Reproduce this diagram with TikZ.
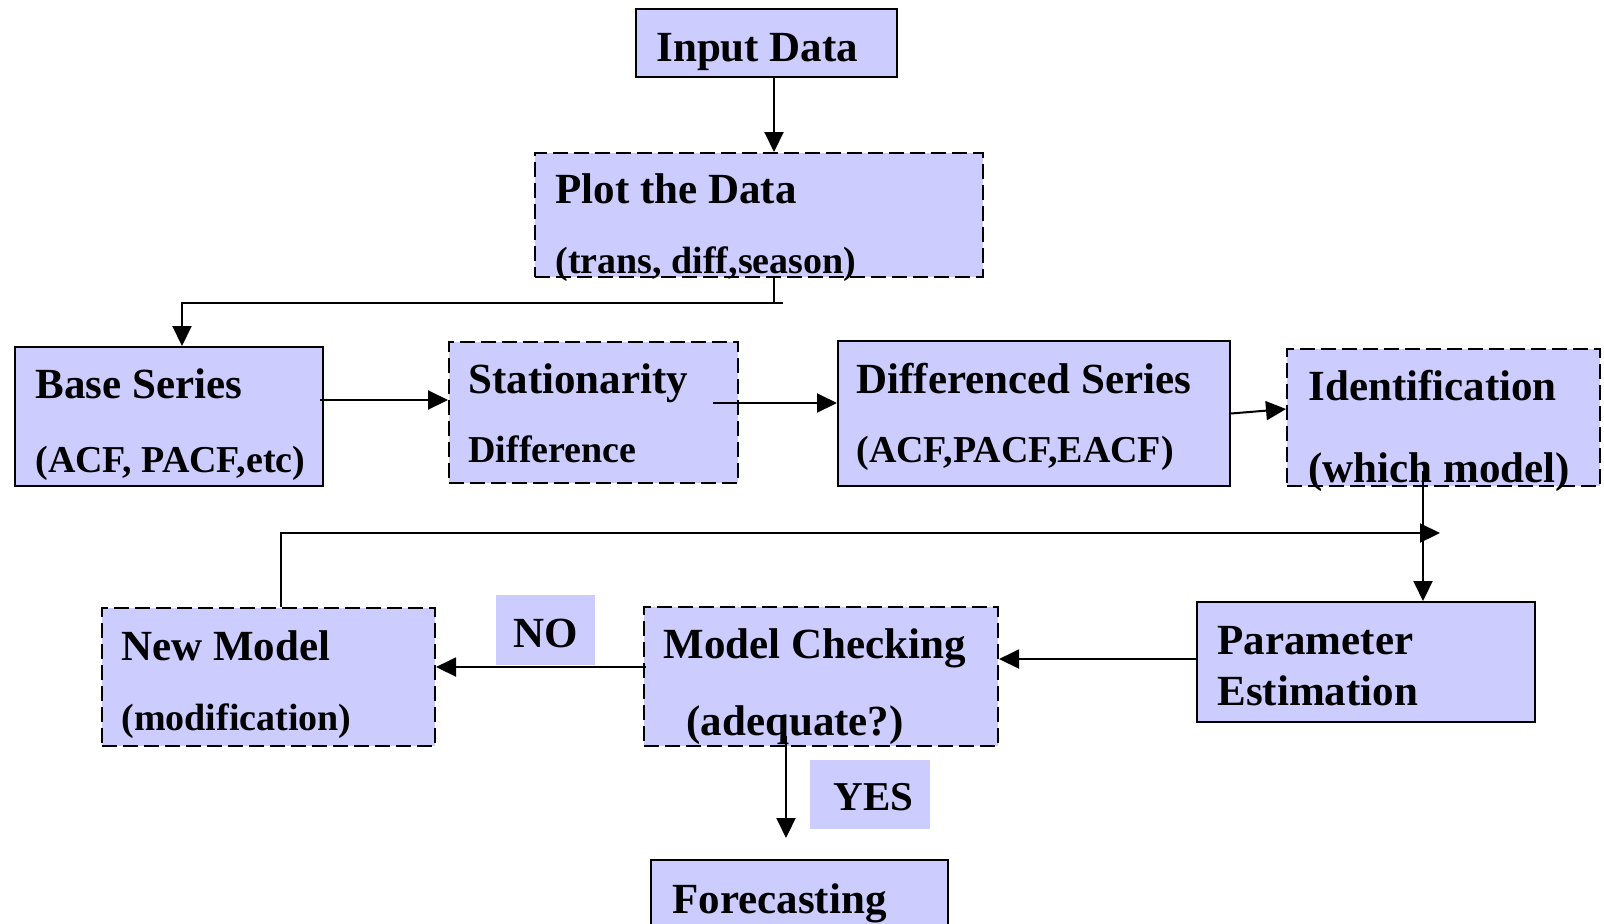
\documentclass[tikz,border=0pt]{standalone}
\usepackage{fontspec}
\setmainfont{Liberation Serif}
\usetikzlibrary{arrows.meta,calc}
\definecolor{boxfill}{RGB}{204,204,255}
\tikzset{
  solidbox/.style={draw=black, fill=boxfill, line width=1pt, rectangle, inner sep=0pt},
  dashbox/.style={solidbox, dash pattern=on 7.5pt off 3pt},
  lblbox/.style={fill=boxfill, inner sep=0pt, rectangle},
  big/.style={font=\bfseries\fontsize{21.5}{24}\selectfont, anchor=base west, inner sep=0pt},
  small/.style={font=\bfseries\fontsize{19}{22}\selectfont, anchor=base west, inner sep=0pt},
  arr/.style={line width=1pt, -{Triangle[length=10pt,width=9.5pt]}},
  conn/.style={line width=1pt},
}
\begin{document}
\begin{tikzpicture}[x=0.5pt,y=-0.5pt]
\useasboundingbox (0,0) rectangle (1604,923);
\clip (0,0) rectangle (1604,923);
% boxes
\node[solidbox, minimum width=130.5pt, minimum height=34pt] (inp) at (766.5,43) {};
\node[dashbox, minimum width=224pt, minimum height=62pt] (plot) at (759,215) {};
\node[solidbox, minimum width=154pt, minimum height=69.5pt] (base) at (169,416.5) {};
\node[dashbox, minimum width=144.5pt, minimum height=70.5pt] (stat) at (593.5,412.5) {};
\node[solidbox, minimum width=196pt, minimum height=72.5pt] (diff) at (1034,413.5) {};
\node[dashbox, minimum width=156.5pt, minimum height=68.5pt] (ident) at (1443.5,417.5) {};
\node[dashbox, minimum width=166.5pt, minimum height=69pt] (newm) at (268.5,677) {};
\node[dashbox, minimum width=177pt, minimum height=69.5pt] (mchk) at (821,676.5) {};
\node[solidbox, minimum width=169pt, minimum height=60pt] (param) at (1366,662) {};
\node[solidbox, minimum width=148.5pt, minimum height=50pt] (fore) at (799.5,910) {};
\node[lblbox, minimum width=49.5pt, minimum height=35pt] (no) at (545.5,630) {};
\node[lblbox, minimum width=60pt, minimum height=34.5pt] (yes) at (870,794.5) {};
% texts
\node[big] (t1) at (656,61) {Input Data};
\node[big] (t2) at (555,203) {Plot the Data};
\node[small] (t3) at (555,273) {(trans, diff,season)};
\node[big] (t4) at (35,398) {Base Series};
\node[small] (t5) at (35,472) {(ACF, PACF,etc)};
\node[big] (t6) at (468,393) {Stationarity};
\node[small] (t7) at (468,462) {Difference};
\node[big] (t8) at (856,393) {Differenced Series};
\node[small] (t9) at (856,462) {(ACF,PACF,EACF)};
\node[big] (t10) at (1308,400) {Identification};
\node[big] (t11) at (1308,482) {(which model)};
\node[big] (t12) at (121,660) {New Model};
\node[small] (t13) at (121,730) {(modification)};
\node[big] (t14) at (663,658) {Model Checking};
\node[big] (t15) at (686,735) {(adequate?)};
\node[big] (t16) at (1217,654) {Parameter};
\node[big] (t17) at (1217,705) {Estimation};
\node[big] (t18) at (672,913) {Forecasting};
\node[big] (t19) at (513,647) {NO};
\node[big, font=\bfseries\fontsize{20.5}{24}\selectfont] (t20) at (833,810) {YES};
% connectors
\coordinate (loopend) at (1440,533);
\draw[arr] ($(inp.south)+(7.5,0)$) -- ($(inp.south |- plot.north)+(7.5,0)$);
\draw[arr] ($(plot.south)+(15,0)$) -- ++(0,25) -| ($(base.north)+(13,0)$);
\draw[conn] ($(plot.south)+(15,25)$) -- ++(9,0);
\draw[arr] ($(base.east)+(-4,-16.5)$) -- ($(stat.west |- base.east)+(0,-16.5)$);
\draw[arr] ($(stat.east)+(-26,-9.5)$) -- ($(diff.west |- stat.east)+(0,-9.5)$);
\draw[arr] (diff.east) -- ($(ident.west)+(0,-8.5)$);
\draw[arr] ($(ident.south)+(-20.5,-16)$) -- ($(ident.south |- param.north)+(-20.5,0)$);
\draw[arr] ($(newm.north)+(12.5,0)$) |- (loopend);
\draw[arr] ($(param.west)+(0,-3)$) -- ($(mchk.east |- param.west)+(0,-3)$);
\draw[arr] ($(mchk.west)+(3,-9.5)$) -- ($(newm.east |- mchk.west)+(0,-9.5)$);
\draw[arr] ($(mchk.south)+(-35,-11)$) -- ($(mchk.south |- fore.north)+(-35,-21)$);
\end{tikzpicture}
\end{document}
